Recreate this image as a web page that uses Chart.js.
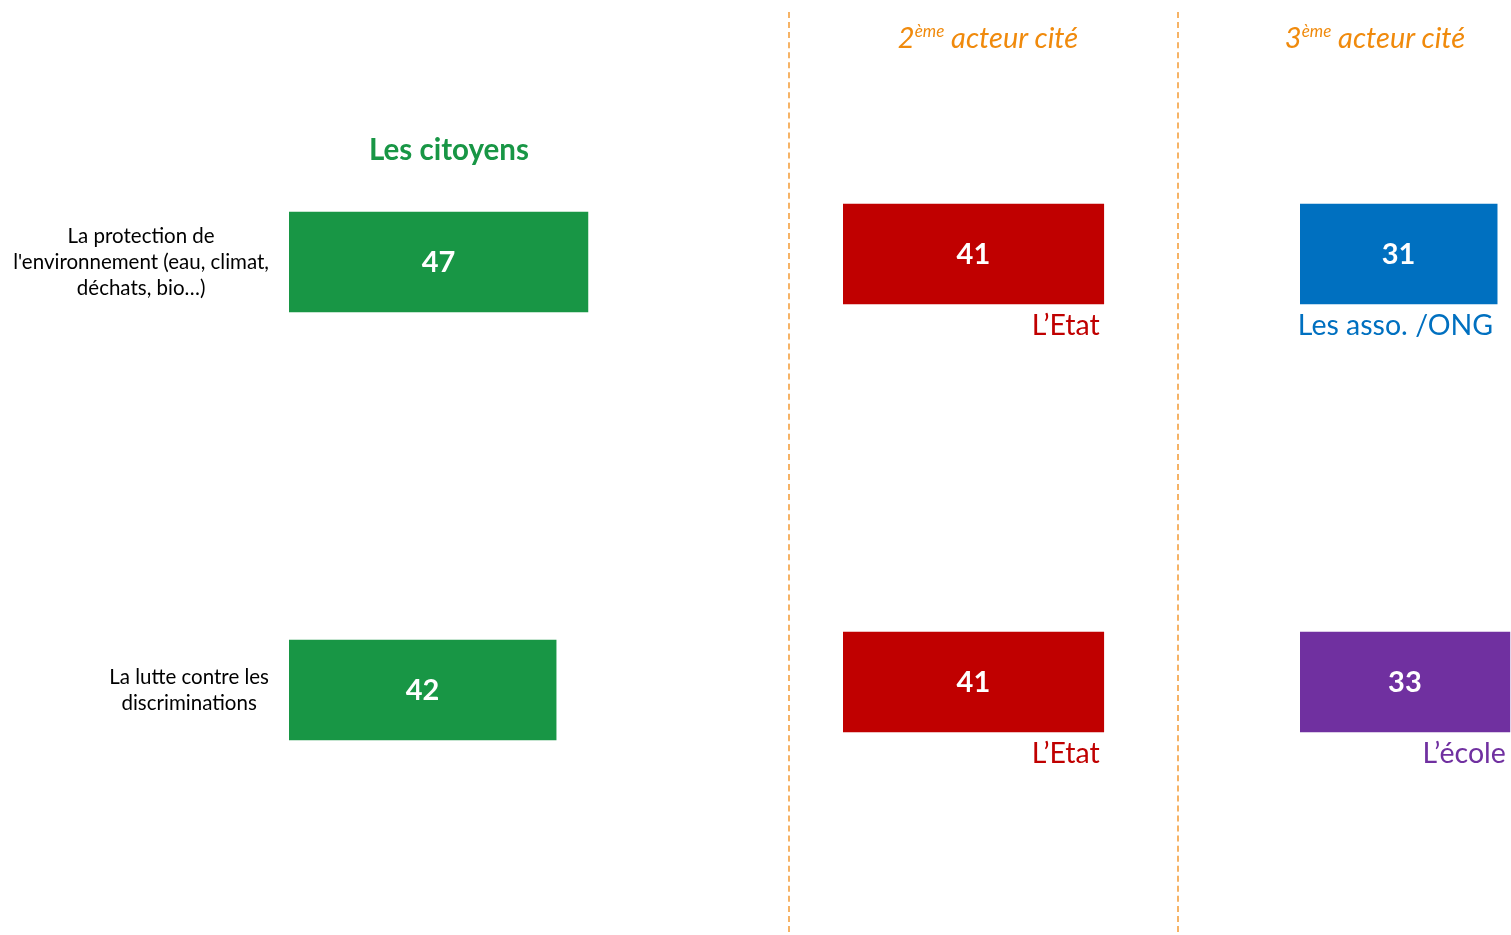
<!DOCTYPE html>
<html lang="fr">
<head>
<meta charset="utf-8">
<title>Acteurs cités</title>
<script src="https://cdn.jsdelivr.net/npm/chart.js@4/dist/chart.umd.min.js"></script>
<style>
    body { margin: 0; background: #fff; }
    #page { position: relative; width: 1511px; height: 935px; overflow: hidden; font-family: Lato, "Open Sans", sans-serif; }
    .panel { position: absolute; top: 0; height: 935px; }
    .sep { position: absolute; top: 12px; height: 920px; width: 0; border-left: 2px dashed #f6b366; }
    .titre { position: absolute; white-space: nowrap; transform: translateX(-50%); }
    .titre-vert { color: #189645; font-weight: bold; font-size: 29.5px; }
    .titre-orange { color: #f08a0c; font-style: italic; font-size: 29px; }
    .titre-orange sup { font-size: 17px; vertical-align: 11px; }
</style>
</head>
<body>
<div id="page">
    <div class="panel" style="left:0;width:789px"><canvas id="chartCitoyens"></canvas></div>
    <div class="panel" style="left:843px;width:335px"><canvas id="chartSecond"></canvas></div>
    <div class="panel" style="left:1300px;width:211px"><canvas id="chartTroisieme"></canvas></div>

    <div class="sep" style="left:788px"></div>
    <div class="sep" style="left:1177px"></div>

    <div class="titre titre-vert" style="left:449px;top:131px">Les citoyens</div>
    <div class="titre titre-orange" style="left:988px;top:19px">2<sup>ème</sup> acteur cité</div>
    <div class="titre titre-orange" style="left:1375px;top:19px">3<sup>ème</sup> acteur cité</div>
</div>

<script>
// Data
const categories = [
    ['La protection de', "l'environnement (eau, climat,", 'déchats, bio…)'],
    ['La lutte contre les', 'discriminations']
];
const citoyensValues = [47, 42];

const secondActors = ['L’Etat', 'L’Etat'];
const secondValues = [41, 41];

const thirdActors = ['Les asso. /ONG', 'L’école'];
const thirdValues = [31, 33];

// Colors
const GREEN = '#189645';
const RED = '#c00000';
const BLUE = '#0070c0';
const PURPLE = '#7030a0';

const secondColors = [RED, RED];
const thirdColors = [BLUE, PURPLE];

// Same horizontal scale for every panel
const PX_PER_UNIT = 6.36;
const FONT = 'Lato, "Open Sans", sans-serif';

// Plugin: value inside the bar, actor name under it, category labels on the left
const barLabelsPlugin = {
    id: 'barLabels',
    afterDatasetsDraw(chart, args, opts) {
        const ctx = chart.ctx;
        const meta = chart.getDatasetMeta(0);
        const values = chart.data.datasets[0].data;
        const colors = chart.data.datasets[0].backgroundColor;

        ctx.save();
        meta.data.forEach((bar, i) => {
            const props = bar.getProps(['x', 'y', 'base', 'height'], true);

            // Value
            ctx.fillStyle = '#ffffff';
            ctx.font = 'bold 29px ' + FONT;
            ctx.textAlign = 'center';
            ctx.textBaseline = 'middle';
            ctx.fillText(values[i], (props.x + props.base) / 2, props.y + 1);

            // Actor name
            if (opts.actors) {
                ctx.fillStyle = colors[i];
                ctx.font = '28.5px ' + FONT;
                ctx.textAlign = 'right';
                ctx.fillText(opts.actors[i], props.x - 4, props.y + props.height / 2 + 22);
            }

            // Category label
            if (opts.categories) {
                const lines = opts.categories[i];
                ctx.fillStyle = '#000000';
                ctx.font = '20.5px ' + FONT;
                const maxW = Math.max(...lines.map(l => ctx.measureText(l).width));
                const cx = props.base - 20 - maxW / 2;
                const lh = 26;
                const top = props.y - (lines.length - 1) * lh / 2;
                ctx.textAlign = 'center';
                lines.forEach((line, k) => ctx.fillText(line, cx, top + k * lh));
            }
        });
        ctx.restore();
    }
};

function createBarChart(canvasId, values, colors, padding, pluginOpts) {
    const canvas = document.getElementById(canvasId);
    const width = canvas.parentElement.clientWidth;
    const areaWidth = width - padding.left;

    return new Chart(canvas, {
        type: 'bar',
        data: {
            labels: categories.map(c => c.join(' ')),
            datasets: [{
                data: values,
                backgroundColor: colors,
                borderWidth: 0,
                barThickness: 100
            }]
        },
        options: {
            indexAxis: 'y',
            responsive: true,
            maintainAspectRatio: false,
            animation: false,
            layout: { padding: padding },
            scales: {
                x: { display: false, min: 0, max: areaWidth / PX_PER_UNIT },
                y: { display: false }
            },
            plugins: {
                legend: { display: false },
                tooltip: { enabled: false },
                barLabels: pluginOpts
            }
        },
        plugins: [barLabelsPlugin]
    });
}

createBarChart('chartCitoyens', citoyensValues, [GREEN, GREEN],
    { left: 289, right: 0, top: 48, bottom: 31 }, { categories: categories });

createBarChart('chartSecond', secondValues, secondColors,
    { left: 0, right: 0, top: 40, bottom: 39 }, { actors: secondActors });

createBarChart('chartTroisieme', thirdValues, thirdColors,
    { left: 0, right: 0, top: 40, bottom: 39 }, { actors: thirdActors });
</script>
</body>
</html>
